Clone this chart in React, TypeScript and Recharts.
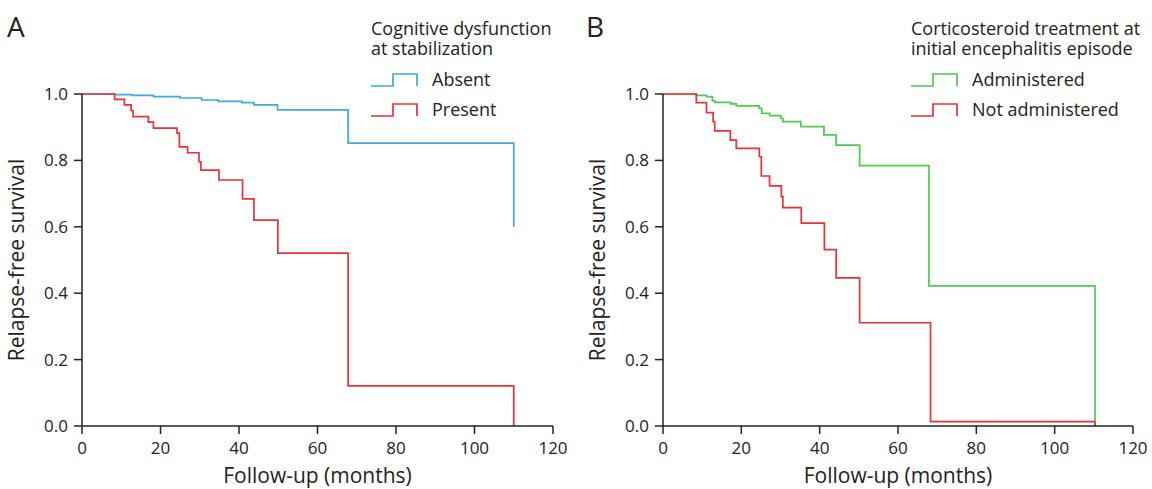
import { LineChart, Line, XAxis, YAxis } from 'recharts'

const monthTicks = [0, 20, 40, 60, 80, 100, 120]
const survivalTicks = [0, 0.2, 0.4, 0.6, 0.8, 1]

// Panel A: cognitive dysfunction at stabilization
const absentMonths = [0, 8.5, 12.7, 18.2, 25.0, 30.5, 34.7, 40.7, 43.8, 49.8, 67.8, 110]
const absentSurvival = [1, 0.998, 0.996, 0.992, 0.988, 0.982, 0.978, 0.974, 0.967, 0.952, 0.852, 0.6]
const presentMonths = [0, 8.3, 10.8, 12.5, 13.0, 16.9, 18.2, 24.2, 24.8, 26.9, 29.8, 30.3, 34.9, 40.9, 43.8, 49.9, 67.8, 110]
const presentSurvival = [1, 0.984, 0.967, 0.95, 0.932, 0.915, 0.897, 0.882, 0.841, 0.823, 0.796, 0.771, 0.741, 0.684, 0.62, 0.521, 0.121, 0]

// Panel B: corticosteroid treatment at initial episode
const administeredMonths = [0, 8.5, 11.1, 12.6, 13.2, 17.3, 18.7, 24.6, 25.2, 27.2, 30.1, 30.6, 35.2, 41.1, 44.2, 50.2, 67.9, 110.3]
const administeredSurvival = [1, 0.996, 0.992, 0.98, 0.975, 0.97, 0.964, 0.957, 0.942, 0.935, 0.927, 0.917, 0.902, 0.877, 0.846, 0.784, 0.422, 0]
const notAdministeredMonths = [0, 8.5, 11.1, 12.8, 13.2, 17.2, 18.7, 24.6, 25.1, 27.2, 30.2, 30.6, 35.3, 41.2, 44.2, 50.2, 68.3, 110.3]
const notAdministeredSurvival = [1, 0.974, 0.944, 0.917, 0.889, 0.861, 0.836, 0.811, 0.753, 0.723, 0.691, 0.658, 0.611, 0.531, 0.446, 0.311, 0.013, 0]

const toRows = (months: number[], surv: number[]) => months.map((m, i) => ({ month: m, surv: surv[i] }))

const FONT = "'Open Sans', sans-serif"
const INK = '#222'
const BLUE = '#3fa9e0'
const RED = '#ee3035'
const GREEN = '#4ccb4c'

type Series = { name: string; color: string; rows: { month: number; surv: number }[] }

function Panel({ series, left, marginLeft, marginRight }: { series: Series[]; left: number; marginLeft: number; marginRight: number }) {
  const tick = { fontSize: 17, fill: INK, fontFamily: FONT }
  return (
    <div style={{ position: 'absolute', left, top: 0 }}>
      <LineChart width={576} height={489} margin={{ top: 94, right: marginRight, bottom: 0, left: marginLeft }}>
        <XAxis type="number" dataKey="month" domain={[0, 120]} ticks={monthTicks} height={63}
          tick={tick} tickSize={8} tickMargin={8} stroke={INK} strokeWidth={1.5} allowDuplicatedCategory={false} />
        <YAxis type="number" dataKey="surv" domain={[0, 1]} ticks={survivalTicks} width={60}
          tick={tick} tickSize={8} tickMargin={6} stroke={INK} strokeWidth={1.5}
          tickFormatter={(v: number) => v.toFixed(1)} />
        {series.map((s) => (
          <Line key={s.name} data={s.rows} dataKey="surv" type="stepAfter" stroke={s.color} strokeWidth={1.7}
            dot={false} activeDot={false} isAnimationActive={false} />
        ))}
      </LineChart>
    </div>
  )
}

function LegendBlock({ x, title, items }: { x: number; title: string[]; items: { label: string; color: string }[] }) {
  return (
    <g fontFamily={FONT} fill={INK}>
      {title.map((t, i) => (
        <text key={t} x={x} y={35 + i * 20} fontSize={18}>{t}</text>
      ))}
      {items.map((it, i) => {
        const base = 86 + i * 30
        return (
          <g key={it.label}>
            <path d={`M${x} ${base} H${x + 22} V${base - 12} H${x + 46} V${base}`} fill="none" stroke={it.color} strokeWidth={1.7} />
            <text x={x + 61} y={base} fontSize={18}>{it.label}</text>
          </g>
        )
      })}
    </g>
  )
}

export default function App() {
  const panelA: Series[] = [
    { name: 'Absent', color: BLUE, rows: toRows(absentMonths, absentSurvival) },
    { name: 'Present', color: RED, rows: toRows(presentMonths, presentSurvival) },
  ]
  const panelB: Series[] = [
    { name: 'Administered', color: GREEN, rows: toRows(administeredMonths, administeredSurvival) },
    { name: 'Not administered', color: RED, rows: toRows(notAdministeredMonths, notAdministeredSurvival) },
  ]
  return (
    <div style={{ position: 'absolute', left: 0, top: 0, width: 1152, height: 489, background: '#fff', overflow: 'hidden' }}>
      <Panel series={panelA} left={0} marginLeft={22} marginRight={23} />
      <Panel series={panelB} left={576} marginLeft={27} marginRight={19} />
      <svg width={1152} height={489} style={{ position: 'absolute', left: 0, top: 0, pointerEvents: 'none' }}>
        <text x={7} y={37} fontFamily={FONT} fontSize={28} fill={INK}>A</text>
        <text x={586} y={37} fontFamily={FONT} fontSize={28} fill={INK}>B</text>
        <g fontFamily={FONT} fontSize={21} fill={INK} textAnchor="middle">
          <text x={24} y={260} transform="rotate(-90 24 260)">Relapse-free survival</text>
          <text x={605} y={260} transform="rotate(-90 605 260)">Relapse-free survival</text>
          <text x={317.5} y={483}>Follow-up (months)</text>
          <text x={898} y={483}>Follow-up (months)</text>
        </g>
        <LegendBlock x={371} title={['Cognitive dysfunction', 'at stabilization']}
          items={[{ label: 'Absent', color: BLUE }, { label: 'Present', color: RED }]} />
        <LegendBlock x={911} title={['Corticosteroid treatment at', 'initial encephalitis episode']}
          items={[{ label: 'Administered', color: GREEN }, { label: 'Not administered', color: RED }]} />
      </svg>
    </div>
  )
}
